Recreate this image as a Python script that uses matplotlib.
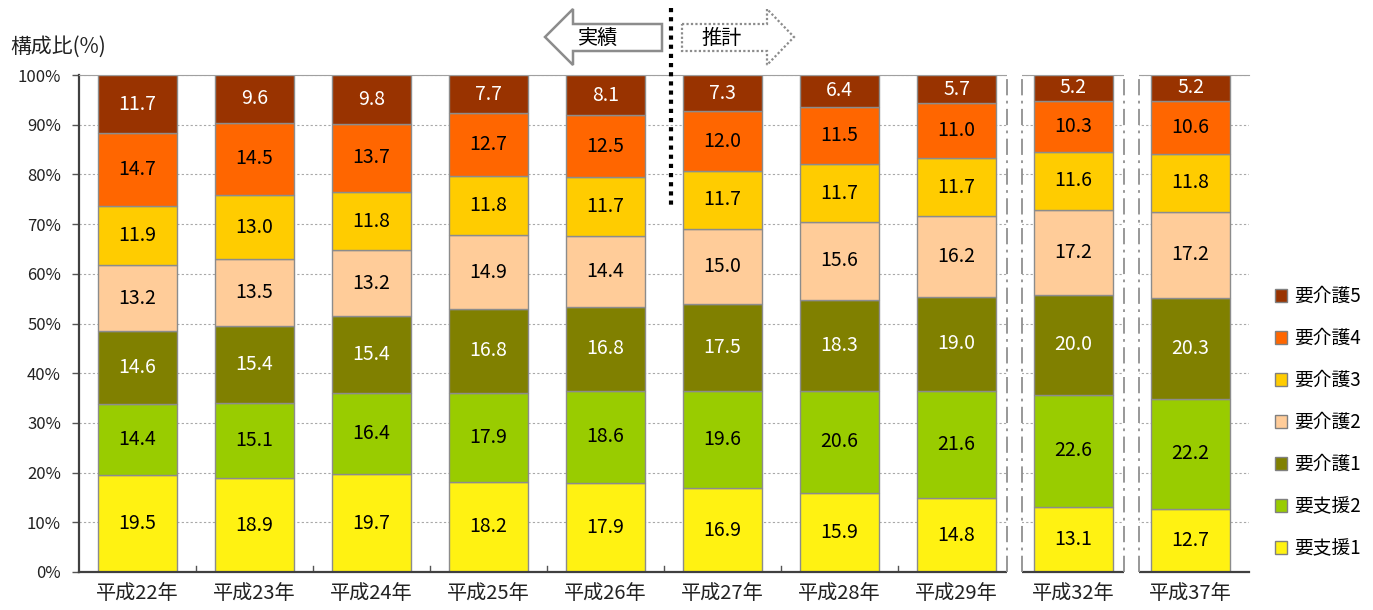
import matplotlib

matplotlib.use("Agg")
import matplotlib.pyplot as plt
import numpy as np
from matplotlib.lines import Line2D
from matplotlib.patches import Patch, Polygon, Rectangle

plt.rcParams["font.family"] = ["Noto Sans CJK JP", "DejaVu Sans"]

years = ["平成22年", "平成23年", "平成24年", "平成25年", "平成26年",
         "平成27年", "平成28年", "平成29年", "平成32年", "平成37年"]
levels = ["要支援1", "要支援2", "要介護1", "要介護2", "要介護3", "要介護4", "要介護5"]

# share of each care level (%), bottom to top
shien1 = [19.5, 18.9, 19.7, 18.2, 17.9, 16.9, 15.9, 14.8, 13.1, 12.7]
shien2 = [14.4, 15.1, 16.4, 17.9, 18.6, 19.6, 20.6, 21.6, 22.6, 22.2]
kaigo1 = [14.6, 15.4, 15.4, 16.8, 16.8, 17.5, 18.3, 19.0, 20.0, 20.3]
kaigo2 = [13.2, 13.5, 13.2, 14.9, 14.4, 15.0, 15.6, 16.2, 17.2, 17.2]
kaigo3 = [11.9, 13.0, 11.8, 11.8, 11.7, 11.7, 11.7, 11.7, 11.6, 11.8]
kaigo4 = [14.7, 14.5, 13.7, 12.7, 12.5, 12.0, 11.5, 11.0, 10.3, 10.6]
kaigo5 = [11.7, 9.6, 9.8, 7.7, 8.1, 7.3, 6.4, 5.7, 5.2, 5.2]

series = [shien1, shien2, kaigo1, kaigo2, kaigo3, kaigo4, kaigo5]
colors = ["#FFF212", "#99CC00", "#808000", "#FFCC99", "#FFCC00", "#FF6600", "#993300"]
text_colors = ["black", "black", "white", "black", "black", "black", "white"]

fig = plt.figure(figsize=(13.73, 6.10), dpi=100)
ax = fig.add_axes([79 / 1373, 38 / 610, 1170 / 1373, 497 / 610])

x = np.arange(len(years))
bottom = np.zeros(len(years))
for vals, col, tcol in zip(series, colors, text_colors):
    vals = np.array(vals)
    ax.bar(x, vals, 0.675, bottom=bottom, color=col, edgecolor="#8c8c8c",
           linewidth=1.0, zorder=2)
    for xi, b, v in zip(x, bottom, vals):
        ax.text(xi, b + v / 2, f"{v:.1f}", ha="center", va="center",
                fontsize=14, color=tcol, zorder=4)
    bottom += vals

ax.set_xlim(-0.5, len(years) - 0.5)
ax.set_ylim(0, 100)
ax.set_yticks(np.arange(0, 101, 10))
ax.set_yticklabels([f"{t}%" for t in range(0, 101, 10)], fontsize=12, color="#222222")
ax.set_xticks(x)
ax.set_xticklabels(years, fontsize=14.5, color="#222222")
ax.tick_params(axis="x", length=0, pad=8)
ax.tick_params(axis="y", length=5, width=1, color="#555555", pad=8)
ax.yaxis.grid(True, color="#a8a8a8", linestyle=(0, (2, 2)), linewidth=0.8, zorder=0)
ax.set_axisbelow(True)
for side in ("left", "bottom"):
    ax.spines[side].set_color("#404040")
    ax.spines[side].set_linewidth(1.6)
ax.spines["top"].set_color("#a0a0a0")
ax.spines["right"].set_visible(False)

# small ticks between categories on the x axis
for xb in x[:-1] + 0.5:
    ax.plot([xb, xb], [0, 1.2], color="#555555", lw=1, zorder=1)

# breaks in the time axis before the 平成32年 and 平成37年 projections
for x0, x1 in [(7.43, 7.56), (8.43, 8.56)]:
    ax.add_patch(Rectangle((x0, -0.6), x1 - x0, 101.2, facecolor="white",
                           edgecolor="none", zorder=3, clip_on=False))
    for xv in (x0, x1):
        ax.plot([xv, xv], [0, 100], color="#909090", lw=1.3,
                linestyle=(0, (9, 3, 1.5, 3)), zorder=3.5, clip_on=False)

fig.text(10 / 1373, 1 - 47 / 610, "構成比(%)", fontsize=15, va="center",
         ha="left", color="#222222")

# 実績 / 推計 arrows above the chart
def fx(px):
    return px / 1373


def fy(py):
    return 1 - py / 610


left_arrow = [(545, 37), (573, 9), (573, 24), (662, 24), (662, 51),
              (573, 51), (573, 65)]
fig.patches.append(Polygon([(fx(a), fy(b)) for a, b in left_arrow], closed=True,
                           facecolor="white", edgecolor="#8c8c8c", linewidth=1.8,
                           transform=fig.transFigure))
right_arrow = [(682, 24), (767, 24), (767, 9), (794, 37), (767, 65),
               (767, 51), (682, 51)]
fig.patches.append(Polygon([(fx(a), fy(b)) for a, b in right_arrow], closed=True,
                           facecolor="white", edgecolor="#8c8c8c", linewidth=1.6,
                           linestyle=(0, (1, 1)), transform=fig.transFigure))
fig.text(fx(598), fy(38), "実績", fontsize=14.5, ha="center", va="center")
fig.text(fx(722), fy(38), "推計", fontsize=14.5, ha="center", va="center")
fig.lines.append(Line2D([fx(671), fx(671)], [fy(8), fy(208)], color="black",
                        lw=3, linestyle=(0, (1, 1.2)), transform=fig.transFigure,
                        zorder=5))

handles = [Patch(facecolor=c, edgecolor="#808080", linewidth=1.0)
           for c in colors[::-1]]
fig.legend(handles, levels[::-1], loc="upper left",
           bbox_to_anchor=(1258 / 1373, 1 - 269 / 610), frameon=False,
           fontsize=13.5, handlelength=0.65, handleheight=0.65, handletextpad=0.4,
           labelspacing=1.12)

fig.savefig("out.png", dpi=100, facecolor="white")
